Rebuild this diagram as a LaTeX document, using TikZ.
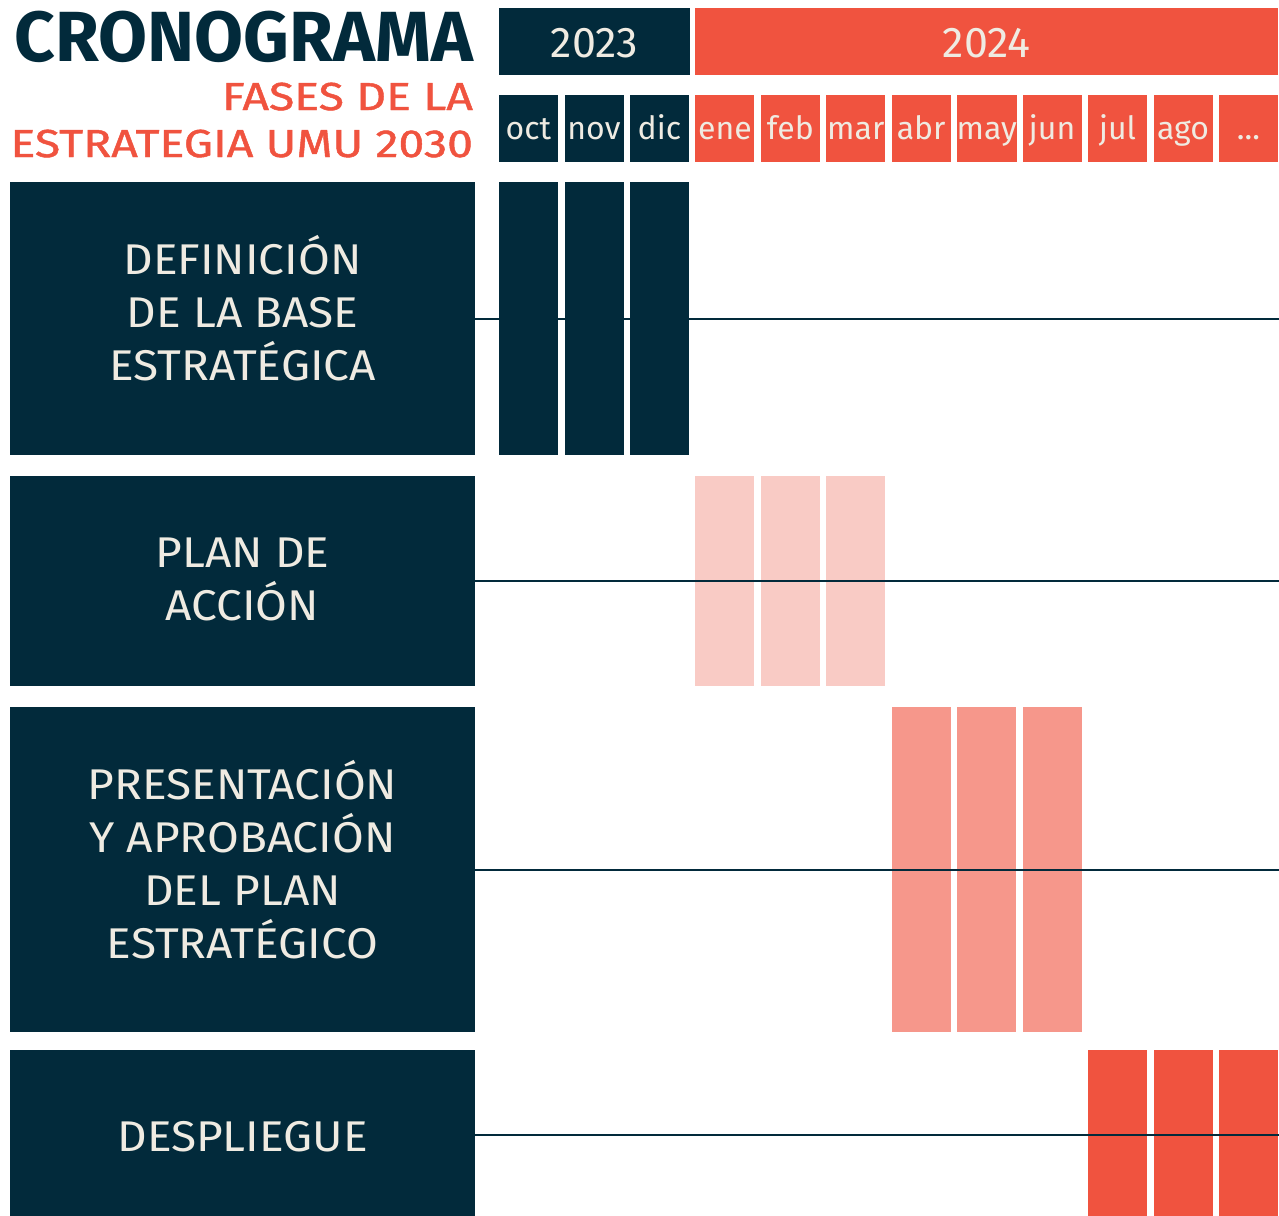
\documentclass[tikz,border=0pt]{standalone}
\usepackage{fontspec}
\setmainfont{Fira Sans}
\newfontfamily\subfont[FakeStretch=1.19, FakeBold=1.2]{Fira Sans}
\newfontfamily\phasefont[FakeStretch=1.07]{Fira Sans}
\definecolor{navy}{HTML}{022A3B}
\definecolor{tomato}{HTML}{F0533F}
\definecolor{pinklight}{HTML}{F9CBC5}
\definecolor{pinkmid}{HTML}{F6978B}
\definecolor{cream}{HTML}{EFEBE2}
\begin{document}
\begin{tikzpicture}[x=1pt, y=-1pt,
    every node/.style={inner sep=0pt, outer sep=0pt, align=center},
    yearbox/.style={minimum height=67pt, text=cream, font=\fontsize{43}{43}\selectfont, text height=33pt, text depth=0pt},
    monthbox/.style={minimum width=59pt, minimum height=67pt, text=cream, font=\fontsize{32}{32}\selectfont, text height=24pt, text depth=3pt},
    phase/.style={fill=navy, minimum width=465pt},
    phasetext/.style={text=cream, font=\phasefont\fontsize{43}{53}\selectfont},
    subtitle/.style={anchor=base east, text=tomato, font=\subfont\fontsize{39}{39}\selectfont},
    bar/.style={minimum width=59pt},
    timeline/.style={draw=navy, line width=2pt}]
    \useasboundingbox (0,0) rectangle (1279,1215);
    % Title
    \node[anchor=base east, text=navy, font=\fontsize{71}{71}\selectfont\bfseries] (title) at (473,62) {CRONOGRAMA};
    \node[subtitle] (sub1) at (473,110) {FASES DE LA};
    \node[subtitle] (sub2) at (473,157) {ESTRATEGIA UMU 2030};
    % Years
    \node[yearbox, fill=navy, minimum width=191pt] (y2023) at (594.5,41.5) {2023};
    \node[yearbox, fill=tomato, minimum width=582.6pt] (y2024) at (986.7,41.5) {2024};
    % Months
    \node[monthbox, fill=navy] (oct) at (528.5,128.5) {oct};
    \node[monthbox, fill=navy] (nov) at (594.0,128.5) {nov};
    \node[monthbox, fill=navy] (dic) at (659.4,128.5) {dic};
    \node[monthbox, fill=tomato] (ene) at (724.9,128.5) {ene};
    \node[monthbox, fill=tomato] (feb) at (790.3,128.5) {feb};
    \node[monthbox, fill=tomato] (mar) at (855.8,128.5) {mar};
    \node[monthbox, fill=tomato] (abr) at (921.2,128.5) {abr};
    \node[monthbox, fill=tomato] (may) at (986.7,128.5) {may};
    \node[monthbox, fill=tomato] (jun) at (1052.1,128.5) {jun};
    \node[monthbox, fill=tomato] (jul) at (1117.6,128.5) {jul};
    \node[monthbox, fill=tomato] (ago) at (1183.0,128.5) {ago};
    \node[monthbox, fill=tomato] (more) at (1248.5,128.5) {...};
    % Phases
    \node[phase, minimum height=273pt] (base) at (242.5,318.5) {};
    \node[phase, minimum height=210pt] (accion) at (242.5,581) {};
    \node[phase, minimum height=325pt] (aprob) at (242.5,869.5) {};
    \node[phase, minimum height=170pt] (despl) at (242.5,1135) {};
    \node[phasetext] (baseText) at ([yshift=10pt]base.center) {DEFINICIÓN\\DE LA BASE\\ESTRATÉGICA};
    \node[phasetext] (accionText) at ([yshift=2pt]accion.center) {PLAN DE\\ACCIÓN};
    \node[phasetext] (aprobText) at ([yshift=10pt]aprob.center) {PRESENTACIÓN\\Y APROBACIÓN\\DEL PLAN\\ESTRATÉGICO};
    \node[phasetext] (desplText) at ([yshift=-2pt]despl.center) {DESPLIEGUE};
    % Bars
    \node[bar, fill=navy, minimum height=273pt] (b1a) at (oct |- base) {};
    \node[bar, fill=navy, minimum height=273pt] (b1b) at (nov |- base) {};
    \node[bar, fill=navy, minimum height=273pt] (b1c) at (dic |- base) {};
    \node[bar, fill=pinklight, minimum height=210pt] (b2a) at (ene |- accion) {};
    \node[bar, fill=pinklight, minimum height=210pt] (b2b) at (feb |- accion) {};
    \node[bar, fill=pinklight, minimum height=210pt] (b2c) at (mar |- accion) {};
    \node[bar, fill=pinkmid, minimum height=325pt] (b3a) at (abr |- aprob) {};
    \node[bar, fill=pinkmid, minimum height=325pt] (b3b) at (may |- aprob) {};
    \node[bar, fill=pinkmid, minimum height=325pt] (b3c) at (jun |- aprob) {};
    \node[bar, fill=tomato, minimum height=170pt] (b4a) at (jul |- despl) {};
    \node[bar, fill=tomato, minimum height=170pt] (b4b) at (ago |- despl) {};
    \node[bar, fill=tomato, minimum height=170pt] (b4c) at (more |- despl) {};
    % Timelines
    \coordinate (edge) at (1279,0);
    \draw[timeline] (base.east) -- (base.east -| edge);
    \draw[timeline] (accion.east) -- (accion.east -| edge);
    \draw[timeline] (aprob.east) -- (aprob.east -| edge);
    \draw[timeline] (despl.east) -- (despl.east -| edge);
\end{tikzpicture}
\end{document}
